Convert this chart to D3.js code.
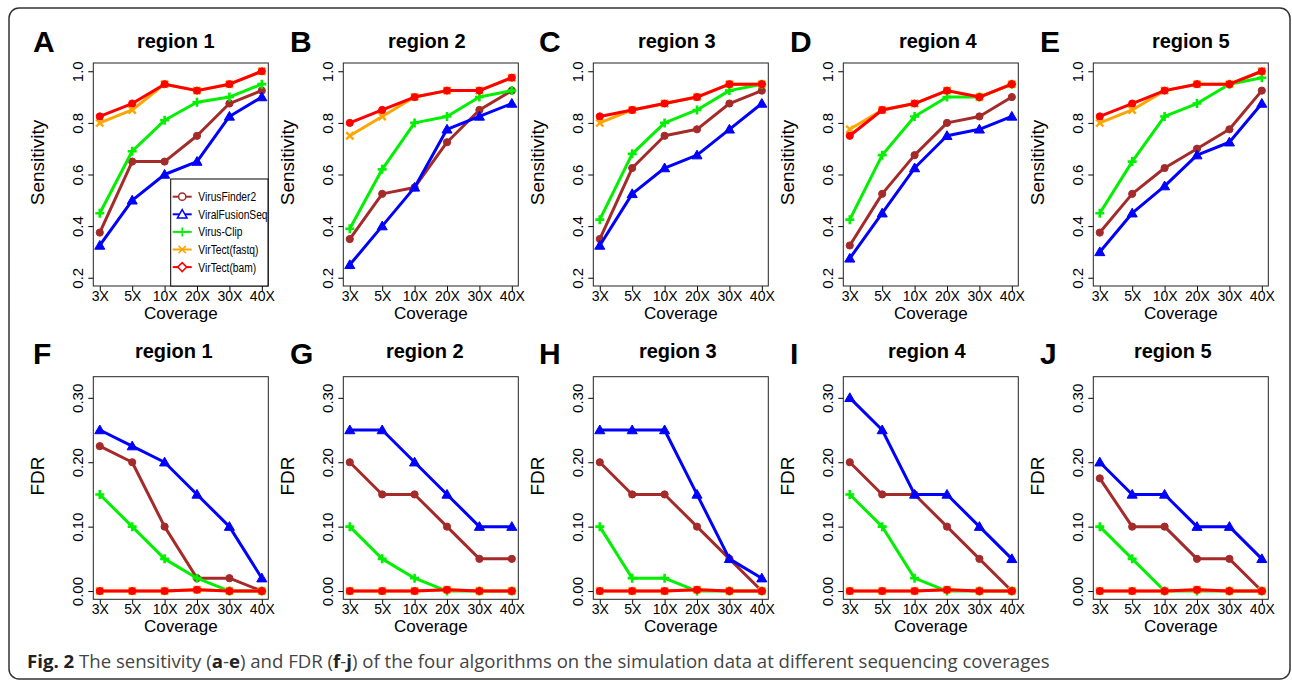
<!DOCTYPE html>
<html>
<head>
<meta charset="utf-8">
<script src="https://d3js.org/d3.v7.min.js"></script>
<style>
  body { margin: 0; background: #fff; }
  svg { font-family: "Liberation Sans", Arial, sans-serif; }
  .caption { font-family: "Open Sans", sans-serif; }
</style>
</head>
<body>
<div id="chart"></div>
<script>
// x categories and series names
var coverages = ["3X", "5X", "10X", "20X", "30X", "40X"];
var methods = ["VirusFinder2", "ViralFusionSeq", "Virus-Clip", "VirTect(fastq)", "VirTect(bam)"];
var regions = ["region 1", "region 2", "region 3", "region 4", "region 5"];
var topLetters = ["A", "B", "C", "D", "E"];
var bottomLetters = ["F", "G", "H", "I", "J"];
var sensTicks = [0.2, 0.4, 0.6, 0.8, 1.0];
var fdrTicks = [0, 0.1, 0.2, 0.3];

// sensitivity, one row per region
var sensVirusFinder2 = [
  [0.375, 0.65, 0.65, 0.75, 0.875, 0.925],
  [0.35, 0.525, 0.55, 0.725, 0.85, 0.925],
  [0.35, 0.625, 0.75, 0.775, 0.875, 0.925],
  [0.325, 0.525, 0.675, 0.8, 0.825, 0.9],
  [0.375, 0.525, 0.625, 0.7, 0.775, 0.925]
];
var sensViralFusionSeq = [
  [0.325, 0.5, 0.6, 0.65, 0.825, 0.9],
  [0.25, 0.4, 0.55, 0.775, 0.825, 0.875],
  [0.325, 0.525, 0.625, 0.675, 0.775, 0.875],
  [0.275, 0.45, 0.625, 0.75, 0.775, 0.825],
  [0.3, 0.45, 0.555, 0.675, 0.725, 0.875]
];
var sensVirusClip = [
  [0.45, 0.69, 0.81, 0.88, 0.9, 0.95],
  [0.39, 0.62, 0.8, 0.825, 0.9, 0.925],
  [0.425, 0.68, 0.8, 0.85, 0.925, 0.95],
  [0.425, 0.675, 0.825, 0.9, 0.9, 0.95],
  [0.45, 0.65, 0.825, 0.875, 0.95, 0.975]
];
var sensVirTectFastq = [
  [0.8, 0.85, 0.95, 0.925, 0.95, 1.0],
  [0.75, 0.825, 0.9, 0.925, 0.925, 0.975],
  [0.8, 0.85, 0.875, 0.9, 0.95, 0.95],
  [0.775, 0.85, 0.875, 0.925, 0.9, 0.95],
  [0.8, 0.85, 0.925, 0.95, 0.95, 1.0]
];
var sensVirTectBam = [
  [0.825, 0.875, 0.95, 0.925, 0.95, 1.0],
  [0.8, 0.85, 0.9, 0.925, 0.925, 0.975],
  [0.825, 0.85, 0.875, 0.9, 0.95, 0.95],
  [0.75, 0.85, 0.875, 0.925, 0.9, 0.95],
  [0.825, 0.875, 0.925, 0.95, 0.95, 1.0]
];

// FDR, one row per region
var fdrVirusFinder2 = [
  [0.225, 0.2, 0.1, 0.02, 0.02, 0],
  [0.2, 0.15, 0.15, 0.1, 0.05, 0.05],
  [0.2, 0.15, 0.15, 0.1, 0.05, 0],
  [0.2, 0.15, 0.15, 0.1, 0.05, 0],
  [0.175, 0.1, 0.1, 0.05, 0.05, 0]
];
var fdrViralFusionSeq = [
  [0.25, 0.225, 0.2, 0.15, 0.1, 0.02],
  [0.25, 0.25, 0.2, 0.15, 0.1, 0.1],
  [0.25, 0.25, 0.25, 0.15, 0.05, 0.02],
  [0.3, 0.25, 0.15, 0.15, 0.1, 0.05],
  [0.2, 0.15, 0.15, 0.1, 0.1, 0.05]
];
var fdrVirusClip = [
  [0.15, 0.1, 0.05, 0.02, 0, 0],
  [0.1, 0.05, 0.02, 0, 0, 0],
  [0.1, 0.02, 0.02, 0, 0, 0],
  [0.15, 0.1, 0.02, 0, 0, 0],
  [0.1, 0.05, 0, 0, 0, 0]
];
var fdrVirTectFastq = [
  [0, 0, 0, 0.002, 0, 0],
  [0, 0, 0, 0.002, 0, 0],
  [0, 0, 0, 0.002, 0, 0],
  [0, 0, 0, 0.002, 0, 0],
  [0, 0, 0, 0.002, 0, 0]
];
var fdrVirTectBam = [
  [0, 0, 0, 0.002, 0, 0],
  [0, 0, 0, 0.002, 0, 0],
  [0, 0, 0, 0.002, 0, 0],
  [0, 0, 0, 0.002, 0, 0],
  [0, 0, 0, 0.002, 0, 0]
];

var sensSeries = [sensVirusFinder2, sensViralFusionSeq, sensVirusClip, sensVirTectFastq, sensVirTectBam];
var fdrSeries = [fdrVirusFinder2, fdrViralFusionSeq, fdrVirusClip, fdrVirTectFastq, fdrVirTectBam];

var colors = ["#a52a2a", "#0000ff", "#00f000", "#ffa500", "#ff0000"];
var shapes = ["circle", "triangle", "plus", "cross", "circle"];
var legendShapes = ["circle", "triangle", "plus", "cross", "diamond"];

var W = 1292, H = 681;
var plotW = 175, panelStep = 250, plotLeft = 93.3;
var rows = [
  {top: 63, h: 223, ylim: [0.2, 1.0], ticks: sensTicks, fmt: d3.format(".1f"), ylab: "Sensitivity",
   series: sensSeries, letters: topLetters, letterY: 52, titleY: 48, titleDx: [-5, -4, -4, 7, 10]},
  {top: 376.7, h: 222.6, ylim: [0, 0.32], ticks: fdrTicks, fmt: d3.format(".2f"), ylab: "FDR",
   series: fdrSeries, letters: bottomLetters, letterY: 364, titleY: 358, titleDx: [-7, -6, -3, -4, -8]}
];
var letterX = [33, 290, 539, 790, 1040];

var svg = d3.select("#chart").append("svg")
  .attr("width", W).attr("height", H);

// outer frame
svg.append("rect")
  .attr("x", 9).attr("y", 8).attr("width", 1281).attr("height", 671)
  .attr("rx", 10).attr("fill", "none").attr("stroke", "#333").attr("stroke-width", 1.5);

function marker(g, shape, color, filled) {
  if (shape === "circle") {
    g.append("circle").attr("r", 3.6)
      .attr("fill", filled ? color : "#fff").attr("stroke", color).attr("stroke-width", filled ? 1 : 1.5);
  } else if (shape === "triangle") {
    g.append("path").attr("d", d3.symbol(d3.symbolTriangle, filled ? 44 : 40)())
      .attr("transform", "translate(0,0.8)")
      .attr("fill", filled ? color : "#fff").attr("stroke", color).attr("stroke-width", filled ? 1 : 1.5);
  } else if (shape === "plus") {
    g.append("path").attr("d", "M-4.5,0H4.5M0,-4.5V4.5")
      .attr("stroke", color).attr("stroke-width", filled ? 2.6 : 1.5);
  } else if (shape === "cross") {
    g.append("path").attr("d", "M-3.6,-3.6L3.6,3.6M-3.6,3.6L3.6,-3.6")
      .attr("stroke", color).attr("stroke-width", filled ? 2.4 : 1.5);
  } else if (shape === "diamond") {
    g.append("path").attr("d", "M0,-4.5L4.5,0L0,4.5L-4.5,0Z")
      .attr("fill", "#fff").attr("stroke", color).attr("stroke-width", 1.5);
  }
}

rows.forEach(function(row) {
  var pad = (row.ylim[1] - row.ylim[0]) * 0.04;
  var y = d3.scaleLinear()
    .domain([row.ylim[0] - pad, row.ylim[1] + pad])
    .range([row.h, 0]);

  regions.forEach(function(region, r) {
    var left = plotLeft + r * panelStep;
    var x = d3.scalePoint().domain(coverages).range([0, plotW]).padding(0.2);

    var g = svg.append("g").attr("transform", "translate(" + left + "," + row.top + ")");

    // panel letter and title
    svg.append("text")
      .attr("x", letterX[r]).attr("y", row.letterY)
      .style("font-size", "30px").style("font-weight", "bold")
      .text(row.letters[r]);
    g.append("text")
      .attr("x", plotW / 2 + row.titleDx[r]).attr("y", row.titleY - row.top)
      .attr("text-anchor", "middle")
      .style("font-size", "20px").style("font-weight", "bold")
      .text(region);

    // axes
    var xAxis = g.append("g")
      .attr("transform", "translate(0," + row.h + ")")
      .call(d3.axisBottom(x).tickSize(5));
    xAxis.select(".domain").remove();
    xAxis.selectAll("text").attr("y", 15).attr("dy", 0)
      .style("font-size", "14px").attr("fill", "#000");

    var yAxis = g.append("g")
      .call(d3.axisLeft(y).tickValues(row.ticks).tickFormat(row.fmt).tickSize(5));
    yAxis.select(".domain").remove();
    yAxis.selectAll("text")
      .attr("x", 0).attr("dy", 0)
      .attr("text-anchor", "middle")
      .attr("transform", "translate(-10,0) rotate(-90)")
      .style("font-size", "15px").attr("fill", "#000");
    g.selectAll(".tick line").attr("stroke", "#000");

    g.append("text")
      .attr("x", plotW / 2).attr("y", row.h + 33)
      .attr("text-anchor", "middle").style("font-size", "17px")
      .text("Coverage");
    g.append("text")
      .attr("transform", "translate(-49," + (row.h / 2 - 12) + ") rotate(-90)")
      .attr("text-anchor", "middle").style("font-size", "19px")
      .text(row.ylab);

    // series
    var line = d3.line()
      .x(function(d, i) { return x(coverages[i]); })
      .y(function(d) { return y(d); });

    row.series.forEach(function(s, m) {
      var vals = s[r];
      g.append("path")
        .attr("d", line(vals))
        .attr("fill", "none").attr("stroke", colors[m])
        .attr("stroke-width", 3).attr("stroke-linejoin", "round");
      vals.forEach(function(v, i) {
        var p = g.append("g")
          .attr("transform", "translate(" + x(coverages[i]) + "," + y(v) + ")");
        marker(p, shapes[m], colors[m], true);
      });
    });

    // box
    g.append("rect")
      .attr("width", plotW).attr("height", row.h)
      .attr("fill", "none").attr("stroke", "#222").attr("stroke-width", 1);

    // legend in first panel
    if (row.ylab === "Sensitivity" && r === 0) {
      var lg = g.append("g").attr("transform", "translate(" + (170.7 - left) + "," + (179 - row.top) + ")");
      lg.append("rect")
        .attr("width", 268 - 170.7).attr("height", 286 - 179)
        .attr("fill", "#fff").attr("stroke", "#000").attr("stroke-width", 1);
      methods.forEach(function(name, m) {
        var ly = 17.7 + m * 17.6;
        lg.append("line")
          .attr("x1", 2).attr("x2", 21).attr("y1", ly).attr("y2", ly)
          .attr("stroke", colors[m]).attr("stroke-width", 2);
        var p = lg.append("g").attr("transform", "translate(11.5," + ly + ")");
        marker(p, legendShapes[m], colors[m], false);
        lg.append("text")
          .attr("transform", "translate(27.6," + (ly + 4.5) + ") scale(0.82,1)")
          .style("font-size", "12.5px")
          .text(name);
      });
    }
  });
});

// caption
var cap = svg.append("text")
  .attr("class", "caption")
  .attr("x", 27).attr("y", 668)
  .style("font-size", "18.6px").attr("fill", "#444");
cap.append("tspan").style("font-weight", "bold").attr("fill", "#222").text("Fig. 2");
cap.append("tspan").text(" The sensitivity (");
cap.append("tspan").style("font-weight", "bold").attr("fill", "#222").text("a");
cap.append("tspan").text("-");
cap.append("tspan").style("font-weight", "bold").attr("fill", "#222").text("e");
cap.append("tspan").text(") and FDR (");
cap.append("tspan").style("font-weight", "bold").attr("fill", "#222").text("f");
cap.append("tspan").text("-");
cap.append("tspan").style("font-weight", "bold").attr("fill", "#222").text("j");
cap.append("tspan").text(") of the four algorithms on the simulation data at different sequencing coverages");
</script>
</body>
</html>
